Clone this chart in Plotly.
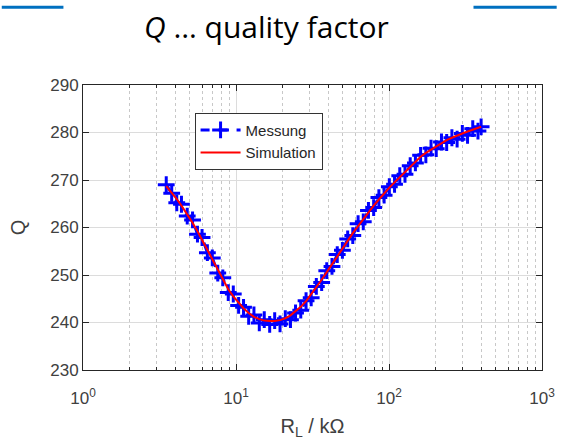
import plotly.graph_objects as go

# Load resistance R_L in kOhm (log-spaced sweep)
r_load = [3.5, 3.8, 4.1, 4.4, 4.8, 5.2, 5.6, 6.0, 6.5, 7.0, 7.6, 8.2, 8.9, 9.6,
          10.4, 11.2, 12.1, 13.1, 14.2, 15.3, 16.6, 17.9, 19.4, 21.0, 22.7, 24.5,
          26.5, 28.7, 31.0, 33.5, 36.3, 39.2, 42.4, 45.9, 49.6, 53.7, 58.0, 62.8,
          67.9, 73.4, 79.4, 85.9, 92.9, 100.5, 108.7, 117.6, 127.2, 137.6, 148.8,
          160.9, 174.1, 188.3, 203.6, 220.3, 238.2, 257.7, 278.7, 301.5, 326.1,
          352.7, 381.5, 400.0]

# Measured quality factor
q_meas = [269.0, 267.2, 265.2, 264.9, 262.4, 261.6, 258.6, 257.9, 254.7, 253.6,
          250.4, 249.4, 246.3, 246.0, 243.6, 243.2, 241.3, 241.6, 239.9, 240.6,
          239.6, 240.4, 239.7, 240.8, 240.6, 242.0, 242.6, 244.6, 245.2, 247.6,
          248.4, 250.9, 251.8, 254.3, 255.2, 257.6, 258.3, 260.8, 261.2, 263.6,
          264.2, 266.3, 266.8, 268.6, 269.1, 270.9, 271.2, 273.0, 273.6, 275.2,
          275.3, 276.7, 276.6, 278.0, 277.9, 278.9, 278.6, 279.8, 279.4, 280.8,
          280.3, 281.2]

# Simulated quality factor
q_sim = [268.7, 267.4, 266.0, 264.6, 262.8, 261.0, 259.2, 257.4, 255.3, 253.2,
         251.0, 249.0, 247.0, 245.5, 244.2, 243.0, 242.0, 241.2, 240.7, 240.4,
         240.3, 240.3, 240.5, 240.9, 241.5, 242.3, 243.3, 244.5, 245.9, 247.3,
         249.0, 250.6, 252.3, 254.0, 255.6, 257.2, 258.8, 260.3, 261.8, 263.2,
         264.6, 265.9, 267.2, 268.4, 269.5, 270.6, 271.7, 272.8, 274.0, 274.9,
         275.7, 276.4, 277.1, 277.8, 278.4, 278.9, 279.4, 279.8, 280.2, 280.6,
         281.0, 281.2]

x_tickvals = [1, 10, 100, 1000]
x_ticktext = ["10<sup>0</sup>", "10<sup>1</sup>", "10<sup>2</sup>", "10<sup>3</sup>"]
x_minorvals = [m * d for d in (1, 10, 100) for m in range(2, 10)]
y_tickvals = [230, 240, 250, 260, 270, 280, 290]

W, H = 567, 445
ML, MR, MT, MB = 83, 15, 85, 72
PW, PH = W - ML - MR, H - MT - MB


def px_x(p):
    return (p - ML) / PW


def px_y(p):
    return (H - MB - p) / PH


fig = go.Figure()
fig.add_trace(go.Scatter(
    x=r_load, y=q_meas, name="Messung", mode="lines+markers",
    line=dict(color="#0000FF", width=3, dash="dash"),
    marker=dict(symbol="cross-thin", size=12, line=dict(color="#0000FF", width=3)),
))
fig.add_trace(go.Scatter(
    x=r_load, y=q_sim, name="Simulation", mode="lines",
    line=dict(color="#FF0000", width=2),
))

axis_font = dict(family="Liberation Sans, Arial", size=17, color="#404040")

fig.update_layout(
    width=W, height=H,
    margin=dict(l=ML, r=MR, t=MT, b=MB),
    paper_bgcolor="white", plot_bgcolor="white",
    showlegend=True,
    legend=dict(
        x=px_x(197), y=px_y(113), xanchor="left", yanchor="top",
        bgcolor="white", bordercolor="#333333", borderwidth=1,
        font=dict(family="Liberation Sans, Arial", size=15, color="#262626"),
        tracegroupgap=0, itemwidth=40,
    ),
    xaxis=dict(
        type="log", range=[0, 3],
        tickvals=x_tickvals, ticktext=x_ticktext,
        tickfont=axis_font, ticklabelstandoff=13,
        ticks="inside", ticklen=6, tickcolor="#262626",
        showline=True, linecolor="#262626", linewidth=1, mirror="allticks",
        showgrid=True, gridcolor="#DCDCDC", gridwidth=1,
        zeroline=False,
        minor=dict(tickmode="array", tickvals=x_minorvals,
                   ticks="inside", ticklen=3, tickcolor="#262626",
                   showgrid=True, gridcolor="#C8C8C8", griddash="dot", gridwidth=1),
        title=dict(text="R<sub>L</sub> / kΩ", standoff=11,
                   font=dict(family="Liberation Sans, Arial", size=20, color="#404040")),
    ),
    yaxis=dict(
        range=[230, 290], tickvals=y_tickvals,
        tickfont=axis_font,
        ticks="inside", ticklen=6, tickcolor="#262626",
        showline=True, linecolor="#262626", linewidth=1, mirror="allticks",
        showgrid=True, gridcolor="#DCDCDC", gridwidth=1,
        zeroline=False,
        title=dict(text="Q", standoff=19,
                   font=dict(family="Liberation Sans, Arial", size=20, color="#404040")),
    ),
    annotations=[dict(
        text="<i>Q</i> … quality factor", xref="paper", yref="paper",
        x=px_x(270), y=px_y(26), xanchor="center", yanchor="middle",
        showarrow=False,
        font=dict(family="Open Sans, Noto Sans", size=30, color="#000000"),
    )],
    shapes=[
        dict(type="line", xref="paper", yref="paper",
             x0=px_x(0), x1=px_x(63), y0=px_y(6.5), y1=px_y(6.5),
             line=dict(color="#0070C0", width=3)),
        dict(type="line", xref="paper", yref="paper",
             x0=px_x(482), x1=px_x(567), y0=px_y(6.5), y1=px_y(6.5),
             line=dict(color="#0070C0", width=3)),
    ],
)

fig.write_html("out.html")
